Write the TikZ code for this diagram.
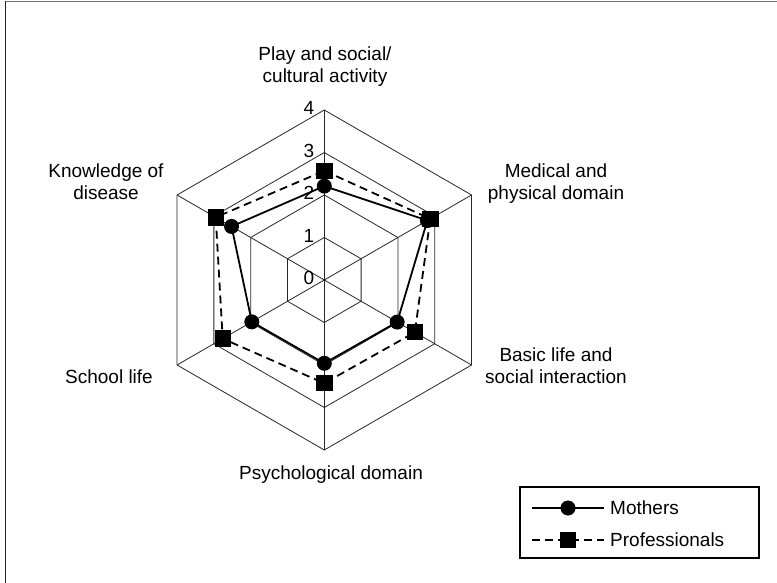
\documentclass[tikz,border=0pt]{standalone}
\usepackage{fontspec}
\setmainfont{Liberation Sans}
\begin{document}
\begin{tikzpicture}[x=1pt,y=-1pt,
  lbl/.style={font=\fontsize{19}{22}\selectfont, align=center, inner sep=0pt},
  grid/.style={line width=0.8pt, draw=black!85},
  momline/.style={line width=1.8pt, line join=round},
  proline/.style={line width=1.8pt, dash pattern=on 8pt off 5pt},
  mom/.style={circle, fill=black, minimum size=15pt, inner sep=0pt},
  pro/.style={rectangle, fill=black, minimum size=16pt, inner sep=0pt}]
\useasboundingbox (0,0) rectangle (777,583);
% frame
\draw[line width=1.2pt, draw=black!55] (5,1.5) -- (777,1.5);
\draw[line width=1.6pt, draw=black!85] (5.5,1) -- (5.5,583);

% radar grid
\begin{scope}[shift={(324.3,280)}, x=42.5pt, y=42.5pt]
  \coordinate (O) at (0,0);
  \foreach \r in {1,2,3,4}{
    \draw[grid] (90:\r) -- (30:\r) -- (-30:\r) -- (-90:\r) -- (210:\r) -- (150:\r) -- cycle;
  }
  \foreach \a/\n in {90/a1,30/a2,-30/a3,-90/a4,210/a5,150/a6}{
    \coordinate (\n) at (\a:4);
    \draw[grid] (O) -- (\n);
  }
  % tick labels
  \foreach \r in {0,1,2,3,4}{
    \node[lbl, anchor=east] (t\r) at ([xshift=-10pt,yshift=2pt]90:\r) {\r};
  }
  % professionals
  \node[pro] (p1) at (90:2.57) {};
  \node[pro] (p2) at (30:2.88) {};
  \node[pro] (p3) at (-30:2.46) {};
  \node[pro] (p4) at (-90:2.43) {};
  \node[pro] (p5) at (210:2.76) {};
  \node[pro] (p6) at (150:2.95) {};
  \draw[proline] (p1.center) -- (p2.center) -- (p3.center) -- (p4.center) -- (p5.center) -- (p6.center) -- cycle;
  \foreach \i in {1,...,6}{\fill (p\i.south west) rectangle (p\i.north east);}
  % mothers
  \node[mom] (m1) at (90:2.21) {};
  \node[mom] (m2) at (30:2.80) {};
  \node[mom] (m3) at (-30:1.98) {};
  \node[mom] (m4) at (-90:1.96) {};
  \node[mom] (m5) at (210:1.97) {};
  \node[mom] (m6) at (150:2.52) {};
  \draw[momline] (m1.center) -- (m2.center) -- (m3.center) -- (m4.center) -- (m5.center) -- (m6.center) -- cycle;
  \foreach \i in {1,...,6}{\fill (m\i) circle (7.5pt/42.5);}
\end{scope}

% axis labels
\node[lbl] (L1) at (325,67) {Play and social/\\cultural activity};
\node[lbl] (L2) at (556,184) {Medical and\\physical domain};
\node[lbl] (L3) at (556,366) {Basic life and\\social interaction};
\node[lbl] (L4) at (331,475) {Psychological domain};
\node[lbl] (L5) at (109,377) {School life};
\node[lbl] (L6) at (106,182) {Knowledge of\\disease};

% legend
\node[draw, line width=1.2pt, minimum width=239pt, minimum height=71pt, inner sep=0pt] (leg) at (639.5,522.5) {};
\coordinate (la1) at (532,508);
\coordinate (lb1) at (604,508);
\coordinate (la2) at (532,540);
\coordinate (lb2) at (604,540);
\draw[momline] (la1) -- (lb1);
\node[mom] (lm) at (568,508) {};
\draw[proline] (la2) -- (lb2);
\node[pro] (lp) at (568,540) {};
\node[lbl, anchor=west] (lt1) at (610,508) {Mothers};
\node[lbl, anchor=west] (lt2) at (610,540) {Professionals};
\end{tikzpicture}
\end{document}
